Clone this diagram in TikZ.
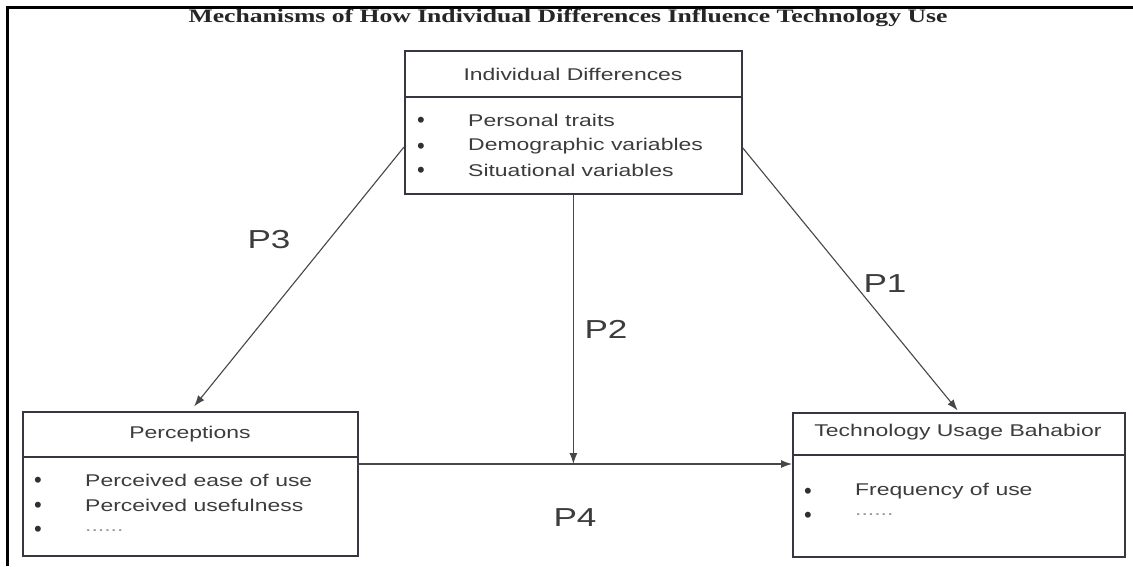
\documentclass[tikz,border=0pt]{standalone}
\usepackage{fontspec}
\setmainfont{Liberation Sans}
\newfontfamily\boxfont[FakeStretch=1.35]{Liberation Sans}
\newfontfamily\titlefont[FakeStretch=1.35]{Liberation Serif}
\usetikzlibrary{arrows.meta}
\definecolor{boxc}{RGB}{55,55,68}
\definecolor{txtc}{RGB}{60,60,60}
\definecolor{arrc}{RGB}{70,70,75}
\definecolor{dotc}{RGB}{150,150,150}
\begin{document}
\begin{tikzpicture}[x=1pt,y=-1pt,
  box/.style={draw=boxc, line width=1.8pt, rectangle, inner sep=0pt, anchor=north west},
  divline/.style={draw=boxc, line width=1.8pt},
  ttl/.style={font=\boxfont\fontsize{17}{20}\selectfont, text=txtc, inner sep=0pt},
  itm/.style={font=\boxfont\fontsize{17}{20}\selectfont, text=txtc, inner sep=0pt, anchor=west},
  bul/.style={font=\fontsize{22}{24}\selectfont, text=txtc!80!black, inner sep=0pt, yshift=-2pt},
  dots/.style={font=\boxfont\fontsize{17}{20}\selectfont, text=dotc, inner sep=0pt, anchor=west},
  plab/.style={font=\boxfont\fontsize{26}{30}\selectfont, text=txtc, inner sep=0pt},
  arr/.style={draw=arrc, line width=1.1pt, -{Latex[length=11pt,width=8pt]}}]
\useasboundingbox (0,0) rectangle (1133,566);
\fill[white] (0,0) rectangle (1133,566);
% frame
\draw[line width=3pt] (1133,7) -- (7,7) -- (7,566);
% title
\node[font=\titlefont\bfseries\fontsize{19}{22}\selectfont, text=black!85, inner sep=0pt] (title) at (568,18) {Mechanisms of How Individual Differences Influence Technology Use};
% Individual differences box
\node[box, minimum width=337pt, minimum height=143pt] (idb) at (404,50) {};
\draw[divline] (404,97) -- (741,97);
\node[ttl] (idt) at (573,74) {Individual Differences};
\node[bul] (ib1) at (421,120) {•};
\node[itm] (ii1) at (468,120) {Personal traits};
\node[bul] (ib2) at (421,146) {•};
\node[itm] (ii2) at (468,146) {Demographic variables};
\node[bul] (ib3) at (421,170) {•};
\node[itm] (ii3) at (468,170) {Situational variables};
% Perceptions box
\node[box, minimum width=335pt, minimum height=144pt] (pb) at (22,411) {};
\draw[divline] (22,457) -- (357,457);
\node[ttl] (pt) at (190,434) {Perceptions};
\node[bul] (pb1) at (38,480) {•};
\node[itm] (pi1) at (85,480) {Perceived ease of use};
\node[bul] (pb2) at (38,505) {•};
\node[itm] (pi2) at (85,505) {Perceived usefulness};
\node[bul] (pb3) at (38,529) {•};
\node[dots] (pi3) at (85,531) {......};
% Technology usage box
\node[box, minimum width=332pt, minimum height=144pt] (tb) at (792,412) {};
\draw[divline] (792,455) -- (1124,455);
\node[ttl] (tt) at (958,432) {Technology Usage Bahabior};
\node[bul] (tb1) at (808,491) {•};
\node[itm] (ti1) at (855,491) {Frequency of use};
\node[bul] (tb2) at (808,515) {•};
\node[dots] (ti2) at (855,515) {......};
% connectors
\coordinate (p3s) at (404,147);
\coordinate (p1s) at (742,147);
\coordinate (p4s) at (357,464);
\coordinate (p4e) at (792,464);
\draw[arr, shorten >=6pt] (p3s) -- (pb.north);
\draw[arr, shorten >=2pt] (p1s) -- (tb.north);
\draw[arr] (p4s) -- (p4e);
\draw[arr] (idb.south) -- (idb.south |- p4s);
% labels
\node[plab] (l3) at (269,240) {P3};
\node[plab] (l1) at (885,284) {P1};
\node[plab] (l2) at (606,329) {P2};
\node[plab] (l4) at (575,518) {P4};
\end{tikzpicture}
\end{document}
